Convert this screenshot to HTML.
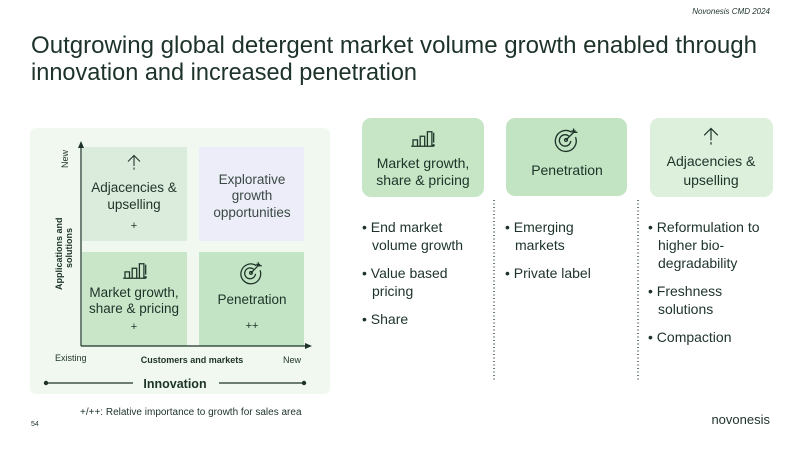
<!DOCTYPE html>
<html><head><meta charset="utf-8"><style>
html,body{margin:0;padding:0;background:#fff;}
svg{display:block;font-family:"Liberation Sans",sans-serif;}
</style></head><body>
<svg width="800" height="450" viewBox="0 0 800 450" xmlns="http://www.w3.org/2000/svg">
<defs>
<g id="bars" fill="none" stroke="#1d3329" stroke-width="1.4">
<path d="M-12 8 H13"/><path d="M-10 8 V1 H-5 V8"/><path d="M-2 8 V-3 H3 V8"/><path d="M6 8 V-8 H11 V8"/><path d="M13 -7 V4"/><circle cx="13" cy="7" r="0.6" fill="#1d3329"/>
</g>
<g id="target" fill="none" stroke="#1d3329" stroke-width="1.4">
<path d="M6 -7 A11 11 0 1 0 10 -2"/><path d="M3 -3 A6 6 0 1 0 5 2"/><circle cx="0" cy="1" r="1.5"/><path d="M0 1 L8 -7"/><path d="M6 -9 L8 -7 L10 -9 M8 -11 V-7 H12"/>
</g>
<g id="arrow" fill="none" stroke="#1d3329" stroke-width="1.4">
<path d="M0 -10 V4"/><path d="M-8 -2 L0 -10 L8 -2"/><path d="M0 6 V9"/>
</g>
</defs>
<text x="770" y="14" font-size="8" font-style="italic" fill="#1d3329" text-anchor="end">Novonesis CMD 2024</text>
<text x="31" y="53" font-size="24" fill="#1d3329" textLength="726" lengthAdjust="spacingAndGlyphs">Outgrowing global detergent market volume growth enabled through</text>
<text x="31" y="80" font-size="24" fill="#1d3329" textLength="386" lengthAdjust="spacingAndGlyphs">innovation and increased penetration</text>

<rect x="30" y="128" width="300" height="266" rx="6" fill="#f0f8ef"/>
<rect x="82" y="147" width="105" height="94" fill="#dcecdc"/>
<rect x="199" y="147" width="105" height="94" fill="#ededf9"/>
<rect x="82" y="252" width="105" height="94" fill="#c9e6c8"/>
<rect x="199" y="252" width="105" height="94" fill="#c3e5c5"/>
<path d="M81 346 V146 M81 346 H307" stroke="#1d3329" stroke-width="1.2" fill="none"/>
<path d="M78 148 L81 141 L84 148 Z M305 343 L312 346 L305 349 Z" fill="#1d3329"/>
<g fill="#1d3329" font-size="13.5" text-anchor="middle">
<use href="#arrow" transform="translate(134,163) scale(0.75)"/>
<text x="134" y="192">Adjacencies &amp;</text>
<text x="134" y="209">upselling</text>
<text x="134" y="229" font-size="11">+</text>
<text x="252" y="184" fill="#3a4a44">Explorative</text>
<text x="252" y="200" fill="#3a4a44">growth</text>
<text x="252" y="217" fill="#3a4a44">opportunities</text>
<use href="#bars" transform="translate(134,271) scale(0.9)"/>
<text x="134" y="297">Market growth,</text>
<text x="134" y="313">share &amp; pricing</text>
<text x="134" y="330" font-size="11">+</text>
<use href="#target" transform="translate(251,272) scale(0.9)"/>
<text x="252" y="304">Penetration</text>
<text x="252" y="329" font-size="11">++</text>
</g>
<text transform="translate(68,168) rotate(-90)" font-size="9" fill="#1d3329">New</text>
<text transform="translate(62,290) rotate(-90)" font-size="9" font-weight="bold" fill="#1d3329" text-anchor="start">Applications and</text>
<text transform="translate(72,268) rotate(-90)" font-size="9" font-weight="bold" fill="#1d3329">solutions</text>
<text x="55" y="361" font-size="9" fill="#1d3329">Existing</text>
<text x="192" y="363" font-size="9" font-weight="bold" fill="#1d3329" text-anchor="middle">Customers and markets</text>
<text x="283" y="363" font-size="9" fill="#1d3329">New</text>
<path d="M46 383 H133 M219 383 H304" stroke="#1d3329" stroke-width="1.2"/>
<circle cx="46" cy="383" r="2.2" fill="#1d3329"/><circle cx="304" cy="383" r="2.2" fill="#1d3329"/>
<text x="175" y="388" font-size="12.5" font-weight="bold" fill="#1d3329" text-anchor="middle">Innovation</text>
<text x="80" y="415" font-size="10" fill="#1d3329">+/++: Relative importance to growth for sales area</text>
<text x="31" y="426" font-size="7" fill="#1d3329">54</text>
<text x="770" y="424" font-size="13" fill="#1d3329" text-anchor="end">novonesis</text>

<rect x="362" y="118" width="122" height="79" rx="9" fill="#c6e6c6"/>
<rect x="506" y="118" width="121" height="78" rx="9" fill="#c2e4c3"/>
<rect x="650" y="118" width="123" height="79" rx="9" fill="#dcf0dc"/>
<g fill="#1d3329" font-size="14" text-anchor="middle">
<use href="#bars" transform="translate(422,139) scale(0.9)"/>
<text x="423" y="168">Market growth,</text>
<text x="423" y="185">share &amp; pricing</text>
<use href="#target" transform="translate(566,139) scale(0.95)"/>
<text x="567" y="175">Penetration</text>
<use href="#arrow" transform="translate(711,137) scale(0.85)"/>
<text x="711" y="166">Adjacencies &amp;</text>
<text x="711" y="185">upselling</text>
</g>
<path d="M494 200 V382 M638 200 V382" stroke="#1d3329" stroke-width="1.3" stroke-dasharray="1 2.5"/>
<g fill="#1d3329" font-size="14">
<text x="362" y="232">• End market</text>
<text x="372" y="250">volume growth</text>
<text x="362" y="278">• Value based</text>
<text x="372" y="296">pricing</text>
<text x="362" y="324">• Share</text>
<text x="505" y="232">• Emerging</text>
<text x="515" y="250">markets</text>
<text x="505" y="278">• Private label</text>
<text x="648" y="232">• Reformulation to</text>
<text x="658" y="250">higher bio-</text>
<text x="658" y="268">degradability</text>
<text x="648" y="296">• Freshness</text>
<text x="658" y="314">solutions</text>
<text x="648" y="342">• Compaction</text>
</g>
</svg>
</body></html>
